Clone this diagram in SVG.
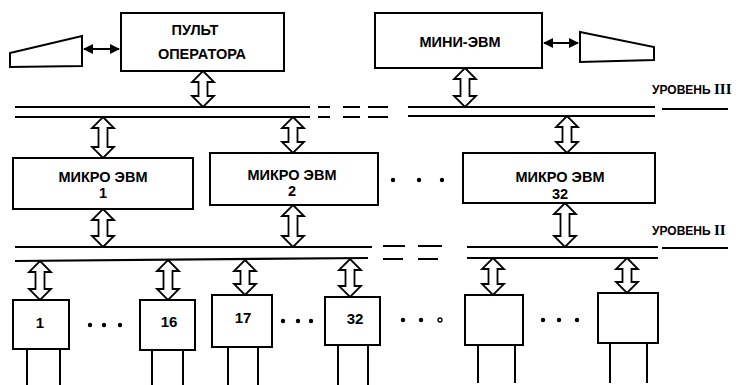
<svg xmlns="http://www.w3.org/2000/svg" width="749" height="385" viewBox="0 0 749 385">
<defs>
<style>
.box{fill:#fff;stroke:#000;stroke-width:2}
.bus{stroke:#000;stroke-width:2.2;fill:none}
.arr{fill:#fff;stroke:#000;stroke-width:1.8;stroke-linejoin:miter}
.leg{stroke:#000;stroke-width:2;fill:none}
.t{font-family:"Liberation Sans",Arial,sans-serif;font-weight:bold;font-size:14.5px;fill:#000;text-anchor:middle}
.n{font-family:"Liberation Sans",Arial,sans-serif;font-weight:bold;font-size:15px;fill:#000;text-anchor:middle}
.lv{font-family:"Liberation Sans",Arial,sans-serif;font-weight:bold;font-size:12px;fill:#000}
.rm{font-family:"Liberation Serif","Times New Roman",serif;font-weight:bold;font-size:15px}
.dot{fill:#000}
</style>
<marker id="ah" viewBox="0 0 10 10" refX="9" refY="5" markerWidth="5" markerHeight="5" orient="auto-start-reverse">
<path d="M0,0 L10,5 L0,10 Z" fill="#000"/>
</marker>
</defs>
<rect width="749" height="385" fill="#fff"/>

<g id="terminal-left">
<path class="box" d="M10,53 L82,36 L82,66 L10,67 Z"/>
</g>
<g id="pult">
<rect class="box" x="121" y="13" width="163" height="58"/>
<text class="t" x="195" y="35">ПУЛЬТ</text>
<text class="t" x="202" y="59">ОПЕРАТОРА</text>
</g>
<g id="mini">
<rect class="box" x="375" y="13" width="167" height="55"/>
<text class="t" x="460" y="47">МИНИ-ЭВМ</text>
</g>
<g id="terminal-right">
<path class="box" d="M580,32 L654,47 L654,60 L580,62 Z"/>
</g>

<g id="micro1">
<rect class="box" x="13" y="158" width="180" height="51"/>
<text class="t" x="103" y="182">МИКРО ЭВМ</text>
<text class="t" x="103" y="198">1</text>
</g>
<g id="micro2">
<rect class="box" x="210" y="153" width="168" height="52"/>
<text class="t" x="292" y="180">МИКРО ЭВМ</text>
<text class="t" x="292" y="196">2</text>
</g>
<g id="micro32">
<rect class="box" x="463" y="153" width="192" height="50"/>
<text class="t" x="560" y="182">МИКРО ЭВМ</text>
<text class="t" x="560" y="199">32</text>
</g>

<g id="mod1">
<rect class="box" x="13" y="300" width="56" height="49"/>
<text class="n" x="40" y="328">1</text>
</g>
<g id="mod16">
<rect class="box" x="140" y="300" width="55" height="50"/>
<text class="n" x="169" y="327">16</text>
</g>
<g id="mod17">
<rect class="box" x="212" y="295" width="60" height="52"/>
<text class="n" x="243" y="323">17</text>
</g>
<g id="mod32">
<rect class="box" x="325" y="297" width="55" height="48"/>
<text class="n" x="355" y="324">32</text>
</g>
<g id="modA">
<rect class="box" x="465" y="295" width="58" height="50"/>
</g>
<g id="modB">
<rect class="box" x="598" y="293" width="60" height="50"/>
</g>

<g id="labels">
<text class="lv" x="652" y="94">УРОВЕНЬ <tspan class="rm">III</tspan></text>
<text class="lv" x="652" y="235">УРОВЕНЬ <tspan class="rm">II</tspan></text>
</g>

<g id="dots">
<circle class="dot" cx="393" cy="180" r="2.2"/>
<circle class="dot" cx="419" cy="180" r="2.2"/>
<circle class="dot" cx="442" cy="180" r="2.2"/>
<circle class="dot" cx="90" cy="325" r="2.2"/>
<circle class="dot" cx="104" cy="325" r="2.2"/>
<circle class="dot" cx="120" cy="325" r="2.2"/>
<circle class="dot" cx="283" cy="321" r="2.2"/>
<circle class="dot" cx="298" cy="321" r="2.2"/>
<circle class="dot" cx="311" cy="321" r="2.2"/>
<circle class="dot" cx="403" cy="320" r="2.2"/>
<circle class="dot" cx="421" cy="320" r="2.2"/>
<circle cx="440" cy="320" r="2" fill="#fff" stroke="#000" stroke-width="1.3"/>
<circle class="dot" cx="543" cy="320" r="2.2"/>
<circle class="dot" cx="559" cy="320" r="2.2"/>
<circle class="dot" cx="577" cy="320" r="2.2"/>
</g>

<g id="connectors">
<path class="bus" d="M15,107 H310 M318,107 H330 M343,107 H360 M368,107 H388 M408,107 H655 M662,109 H728"/>
<path class="bus" d="M15,117 H310 M318,117 H330 M343,117 H360 M368,117 H388 M408,116 H655"/>
<path class="bus" d="M15,247 H372 M383,246 H405 M418,246 H442 M467,247 H658 M662,248 H728"/>
<path class="bus" d="M15,261 L368,258 M383,259 H403 M418,259 H438 M467,258 H658"/>
<path class="leg" d="M84,49 H119" stroke-width="1.5" marker-start="url(#ah)" marker-end="url(#ah)"/>
<path class="leg" d="M544,43 H578" stroke-width="1.5" marker-start="url(#ah)" marker-end="url(#ah)"/>
<polygon class="arr" points="203,71 214,82 207.5,82 207.5,96 214,96 203,107 192,96 198.5,96 198.5,82 192,82"/>
<polygon class="arr" points="465,68 476,79 469.5,79 469.5,96 476,96 465,107 454,96 460.5,96 460.5,79 454,79"/>
<polygon class="arr" points="103,117 114,128 107.5,128 107.5,147 114,147 103,158 92,147 98.5,147 98.5,128 92,128"/>
<polygon class="arr" points="293,117 304,128 297.5,128 297.5,142 304,142 293,153 282,142 288.5,142 288.5,128 282,128"/>
<polygon class="arr" points="567,116 578,127 571.5,127 571.5,142 578,142 567,153 556,142 562.5,142 562.5,127 556,127"/>
<polygon class="arr" points="103,209 114,220 107.5,220 107.5,236 114,236 103,247 92,236 98.5,236 98.5,220 92,220"/>
<polygon class="arr" points="293,205 304,216 297.5,216 297.5,236 304,236 293,247 282,236 288.5,236 288.5,216 282,216"/>
<polygon class="arr" points="565,203 576,214 569.5,214 569.5,236 576,236 565,247 554,236 560.5,236 560.5,214 554,214"/>
<polygon class="arr" points="40,261 51,272 44.5,272 44.5,289 51,289 40,300 29,289 35.5,289 35.5,272 29,272"/>
<polygon class="arr" points="168,260 179,271 172.5,271 172.5,289 179,289 168,300 157,289 163.5,289 163.5,271 157,271"/>
<polygon class="arr" points="245,260 256,271 249.5,271 249.5,284 256,284 245,295 234,284 240.5,284 240.5,271 234,271"/>
<polygon class="arr" points="350,259 361,270 354.5,270 354.5,286 361,286 350,297 339,286 345.5,286 345.5,270 339,270"/>
<polygon class="arr" points="493,258 504,269 497.5,269 497.5,284 504,284 493,295 482,284 488.5,284 488.5,269 482,269"/>
<polygon class="arr" points="627,258 638,269 631.5,269 631.5,282 638,282 627,293 616,282 622.5,282 622.5,269 616,269"/>
<path class="leg" d="M27,349 V385 M60,349 V385 M152,350 V385 M183,350 V385 M228,347 V385 M258,347 V385 M338,345 V385 M368,345 V385 M478,345 V383 M515,345 V383 M610,343 V383 M647,343 V383"/>
</g>
</svg>
